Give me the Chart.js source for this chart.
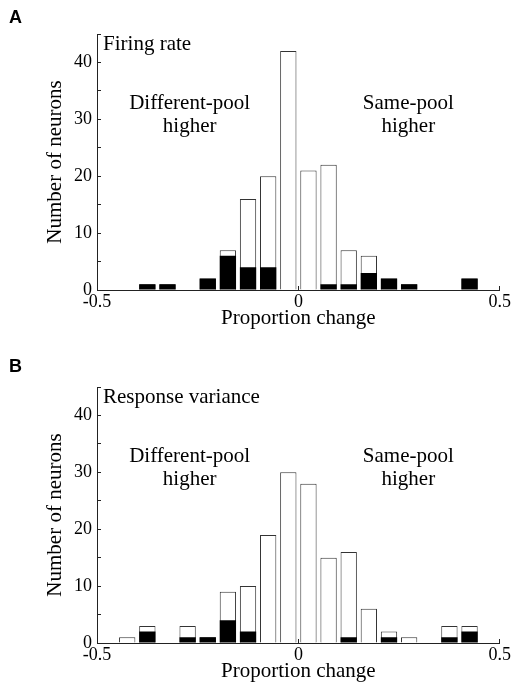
<!DOCTYPE html>
<html>
<head>
<meta charset="utf-8">
<script src="https://cdn.jsdelivr.net/npm/chart.js@4.4.1/dist/chart.umd.min.js"></script>
<style>
  body { margin: 0; background: #fff; width: 516px; height: 684px; overflow: hidden; position: relative; }
  .panel { position: absolute; left: 0; width: 516px; height: 334px; }
  .tag { position: absolute; left: 9px; font: bold 18px "Liberation Sans", Arial, sans-serif; color: #000; line-height: 1; }
</style>
</head>
<body>
<div class="panel" style="top:0"><canvas id="chartA" width="516" height="334"></canvas></div>
<div class="panel" style="top:353px"><canvas id="chartB" width="516" height="334"></canvas></div>
<div class="tag" style="top:8px">A</div>
<div class="tag" style="top:357px">B</div>
<script>
// bin centres of the histogram (proportion change)
const binCenters = [-0.475, -0.425, -0.375, -0.325, -0.275, -0.225, -0.175, -0.125, -0.075, -0.025,
                    0.025, 0.075, 0.125, 0.175, 0.225, 0.275, 0.325, 0.375, 0.425, 0.475];

// A: firing rate
const rateAll   = [0, 0, 1, 1, 0, 2, 7, 16, 20, 42, 21, 22, 7, 6, 2, 1, 0, 0, 2, 0];
const rateBlack = [0, 0, 1, 1, 0, 2, 6, 4, 4, 0, 0, 1, 1, 3, 2, 1, 0, 0, 2, 0];

// B: response variance
const varAll   = [0, 1, 3, 0, 3, 1, 9, 10, 19, 30, 28, 15, 16, 6, 2, 1, 0, 3, 3, 0];
const varBlack = [0, 0, 2, 0, 1, 1, 4, 2, 0, 0, 0, 0, 1, 0, 1, 0, 0, 1, 2, 0];

const yTickLabels = [0, 10, 20, 30, 40];
const xTickLabels = [-0.5, 0, 0.5];

const serif = '"Liberation Serif", "Times New Roman", serif';

function toPoints(vals) {
  // empty bins are not drawn
  return binCenters.map((x, i) => ({ x: x, y: vals[i] > 0 ? vals[i] : null }));
}

// panel title and the two side notes
const notesPlugin = {
  id: 'notes',
  afterDatasetsDraw(chart, args, opts) {
    const { ctx, scales: { x, y } } = chart;
    ctx.save();
    ctx.fillStyle = '#000';
    ctx.font = '21px ' + serif;
    ctx.textBaseline = 'alphabetic';
    ctx.textAlign = 'left';
    ctx.fillText(opts.title, x.getPixelForValue(-0.485), y.getPixelForValue(42.2));
    ctx.textAlign = 'center';
    ctx.fillText('Different-pool', x.getPixelForValue(-0.27), y.getPixelForValue(31.9));
    ctx.fillText('higher', x.getPixelForValue(-0.27), y.getPixelForValue(27.8));
    ctx.fillText('Same-pool', x.getPixelForValue(0.273), y.getPixelForValue(31.9));
    ctx.fillText('higher', x.getPixelForValue(0.273), y.getPixelForValue(27.8));
    ctx.restore();
  }
};

function makeChart(id, title, all, black) {
  const ctx = document.getElementById(id).getContext('2d');
  return new Chart(ctx, {
    type: 'bar',
    data: {
      datasets: [
        {
          data: toPoints(black),
          backgroundColor: '#000',
          borderWidth: 0,
          grouped: false,
          order: 0,
        },
        {
          data: toPoints(all),
          backgroundColor: '#fff',
          borderColor: '#333',
          borderWidth: 1,
          grouped: false,
          order: 1,
        },
      ],
    },
    options: {
      responsive: false,
      animation: false,
      barPercentage: 0.81,
      categoryPercentage: 1,
      layout: { padding: { top: 34, left: 0, right: 14, bottom: 0 } },
      plugins: {
        legend: { display: false },
        tooltip: { enabled: false },
        notes: { title: title },
      },
      scales: {
        x: {
          type: 'linear',
          min: -0.5,
          max: 0.5,
          offset: false,
          afterBuildTicks: (s) => { s.ticks = xTickLabels.map(v => ({ value: v })); },
          afterFit: (s) => { s.height = 44; },
          ticks: {
            color: '#000',
            font: { family: serif, size: 18 },
            padding: 5,
            maxRotation: 0,
            autoSkip: false,
            callback: (v) => String(v),
          },
          grid: { drawOnChartArea: false, drawTicks: true, tickLength: -4, color: '#222', offset: false },
          border: { display: true, color: '#222', width: 1 },
          title: {
            display: true,
            text: 'Proportion change',
            color: '#000',
            font: { family: serif, size: 21 },
            padding: { top: 0, bottom: 3 },
          },
        },
        y: {
          min: 0,
          max: 45,
          afterBuildTicks: (s) => {
            const t = [];
            for (let v = 0; v <= 45; v += 5) t.push({ value: v });
            s.ticks = t;
          },
          afterFit: (s) => { s.width = 97; },
          ticks: {
            color: '#000',
            font: { family: serif, size: 18 },
            padding: 9,
            autoSkip: false,
            callback: (v) => (yTickLabels.includes(v) ? String(v) : ''),
          },
          grid: { drawOnChartArea: false, drawTicks: true, tickLength: -4, color: '#222' },
          border: { display: true, color: '#222', width: 1 },
          title: {
            display: true,
            text: 'Number of neurons',
            color: '#000',
            font: { family: serif, size: 21 },
            padding: { top: 43, bottom: 0 },
          },
        },
      },
    },
    plugins: [notesPlugin],
  });
}

makeChart('chartA', 'Firing rate', rateAll, rateBlack);
makeChart('chartB', 'Response variance', varAll, varBlack);
</script>
</body>
</html>
